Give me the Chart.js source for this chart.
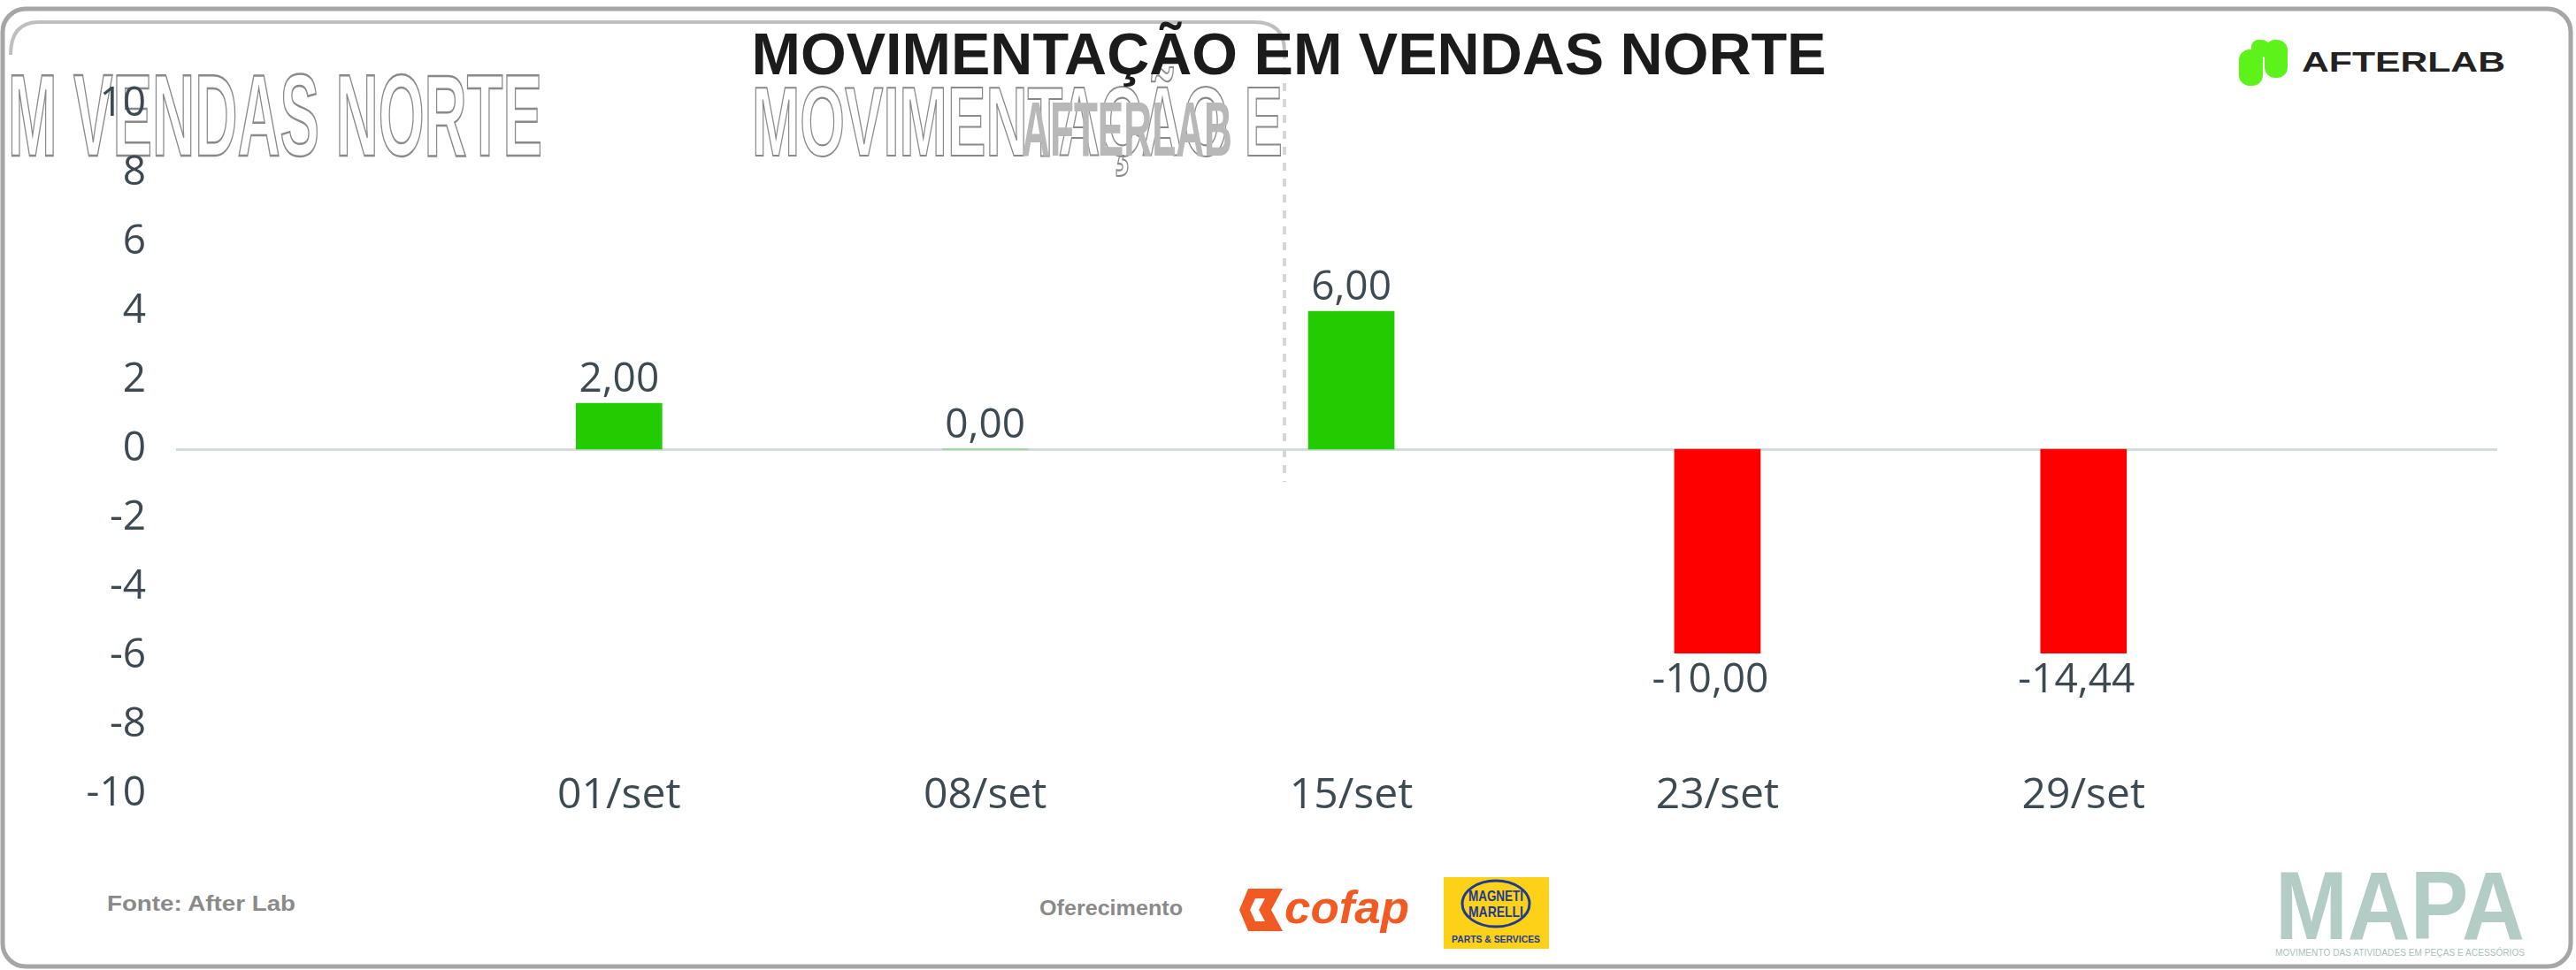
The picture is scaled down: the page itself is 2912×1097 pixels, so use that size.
<!DOCTYPE html>
<html>
<head>
<meta charset="utf-8">
<script src="https://cdn.jsdelivr.net/npm/chart.js@4/dist/chart.umd.min.js"></script>
<style>
html,body{margin:0;padding:0;background:#fff;}
#wrap{position:relative;width:2912px;height:1097px;overflow:hidden;background:#fff;}
#deco{position:absolute;left:0;top:0;}
#c{position:absolute;left:0;top:0;}
</style>
</head>
<body>
<div id="wrap">
<svg id="deco" width="2912" height="1097" xmlns="http://www.w3.org/2000/svg">
  <!-- frame -->
  <rect x="3" y="10" width="2903" height="1083" rx="26" fill="none" stroke="#a6a6a6" stroke-width="5"/>
  <path d="M 12 62 Q 12 25 44 25 L 1418 25 Q 1452 25 1452 58" fill="none" stroke="#bfbfbf" stroke-width="4"/>
  <line x1="1452" y1="58" x2="1452" y2="545" stroke="#d6d6d6" stroke-width="4" stroke-dasharray="9 9"/>

  <!-- ghost texts -->
  <text transform="translate(9,176) scale(1,2)" font-family="Liberation Sans" font-weight="bold" font-size="66" fill="#ffffff" stroke="#8a8a8a" stroke-width="1.2" textLength="604" lengthAdjust="spacingAndGlyphs">M VENDAS NORTE</text>
  <text transform="translate(850,176) scale(1,1.7)" font-family="Liberation Sans" font-weight="bold" font-size="66" fill="#ffffff" stroke="#8a8a8a" stroke-width="1.2" textLength="600" lengthAdjust="spacingAndGlyphs">MOVIMENTAÇÃO E</text>
  <text transform="translate(1155,176) scale(1,2)" font-family="Liberation Sans" font-weight="bold" font-size="44" fill="#b8b8b8" textLength="238" lengthAdjust="spacingAndGlyphs">AFTERLAB</text>

  <!-- title -->
  <text x="1457" y="84" text-anchor="middle" font-family="Liberation Sans" font-weight="bold" font-size="66" fill="#1b1b1b" textLength="1215" lengthAdjust="spacingAndGlyphs">MOVIMENTAÇÃO EM VENDAS NORTE</text>

  <!-- AfterLab logo -->
  <rect x="2531" y="56" width="27" height="41" rx="12" fill="#5cf21a"/>
  <rect x="2560" y="45" width="26" height="43" rx="12" fill="#5cf21a"/>
  <rect x="2545" y="45" width="20" height="20" rx="8" fill="#5cf21a"/>
  <text x="2602" y="81" font-family="Liberation Sans" font-weight="bold" font-size="31" fill="#222" textLength="230" lengthAdjust="spacingAndGlyphs">AFTERLAB</text>

  <!-- footer -->
  <text x="121" y="1030" font-family="Liberation Sans" font-weight="bold" font-size="24" fill="#8a8a8a" textLength="213" lengthAdjust="spacingAndGlyphs">Fonte: After Lab</text>
  <text x="1175" y="1035" font-family="Liberation Sans" font-weight="bold" font-size="24" fill="#8a8a8a" textLength="162" lengthAdjust="spacingAndGlyphs">Oferecimento</text>

  <!-- cofap -->
  <path d="M 1411 1005 L 1450 1005 L 1437 1029 L 1450 1053 L 1411 1053 L 1401 1029 Z" fill="#f15a22"/>
  <path d="M 1419 1016 L 1430 1016 L 1423 1029 L 1430 1042 L 1419 1042 L 1413 1029 Z" fill="#ffffff"/>
  <text x="1452" y="1044" font-family="Liberation Sans" font-weight="bold" font-style="italic" font-size="52" fill="#f15a22" textLength="141" lengthAdjust="spacingAndGlyphs">cofap</text>

  <!-- Magneti Marelli -->
  <rect x="1632" y="992" width="119" height="81" fill="#fdd117"/>
  <ellipse cx="1691" cy="1022" rx="38" ry="26" fill="none" stroke="#1f3a93" stroke-width="3"/>
  <text x="1691" y="1019" text-anchor="middle" font-family="Liberation Sans" font-weight="bold" font-size="17" fill="#1f3a93" textLength="62" lengthAdjust="spacingAndGlyphs">MAGNETI</text>
  <text x="1691" y="1037" text-anchor="middle" font-family="Liberation Sans" font-weight="bold" font-size="17" fill="#1f3a93" textLength="62" lengthAdjust="spacingAndGlyphs">MARELLI</text>
  <text x="1691" y="1066" text-anchor="middle" font-family="Liberation Sans" font-weight="bold" font-size="11" fill="#1f3a93" textLength="100" lengthAdjust="spacingAndGlyphs">PARTS &amp; SERVICES</text>

  <!-- MAPA -->
  <text x="2572" y="1062" font-family="Liberation Sans" font-weight="bold" font-size="109" fill="#b4ccc6" textLength="282" lengthAdjust="spacingAndGlyphs">MAPA</text>
  <text x="2572" y="1081" font-family="Liberation Sans" font-size="10" fill="#a9c0ba" textLength="282" lengthAdjust="spacing">MOVIMENTO DAS ATIVIDADES EM PEÇAS E ACESSÓRIOS</text>
</svg>
<canvas id="c" width="2912" height="1097"></canvas>
</div>
<script>
const categories = ['01/set', '08/set', '15/set', '23/set', '29/set'];
const values = [2.00, 0.00, 6.00, -10.00, -14.44];
const axisTicks = [-10, -8, -6, -4, -2, 0, 2, 4, 6, 8, 10];

const positiveColor = '#22cc00';
const negativeColor = '#ff0000';
const textColor = '#3d4a51';

function fmt(v) { return v.toFixed(2).replace('.', ','); }

const valueLabels = {
  id: 'valueLabels',
  afterDatasetsDraw(chart) {
    const ctx = chart.ctx;
    const meta = chart.getDatasetMeta(0);
    const ds = chart.data.datasets[0];
    const area = chart.chartArea;
    const clipBottom = area.bottom + ((ds.clip && ds.clip.bottom) || 0);
    ctx.save();
    ctx.font = '46px "Open Sans"';
    ctx.fillStyle = textColor;
    ctx.textAlign = 'center';
    ctx.textBaseline = 'alphabetic';
    meta.data.forEach((el, i) => {
      const v = values[i];
      if (v >= 0) ctx.fillText(fmt(v), el.x, el.y - 13);
      else ctx.fillText(fmt(v), el.x - 8, Math.min(el.y, clipBottom) + 44);
    });
    ctx.restore();
  }
};

new Chart(document.getElementById('c'), {
  type: 'bar',
  data: {
    datasets: [{
      data: values.map((v, i) => ({ x: i, y: v })),
      backgroundColor: values.map(v => v >= 0 ? positiveColor : negativeColor),
      borderWidth: 0,
      barThickness: 97,
      xAxisID: 'x',
      yAxisID: 'yBars',
      clip: { left: 0, top: 0, right: 0, bottom: -159 }
    }]
  },
  options: {
    responsive: false,
    animation: false,
    devicePixelRatio: 1,
    events: [],
    layout: { padding: { top: 118, right: 89, bottom: 0, left: 0 } },
    plugins: { legend: { display: false }, tooltip: { enabled: false }, title: { display: false } },
    scales: {
      x: {
        type: 'linear',
        offset: false,
        min: -1.21,
        max: 5.13,
        afterBuildTicks: s => { s.ticks = categories.map((c, i) => ({ value: i })); },
        afterFit: s => { s.height = 199; },
        ticks: {
          callback: v => categories[v],
          font: { family: 'Open Sans', size: 48 },
          color: textColor,
          mirror: true,
          padding: -31,
          autoSkip: false,
          maxRotation: 0
        },
        grid: { display: false, drawTicks: false },
        border: { display: false }
      },
      y: {
        position: 'left',
        min: -10,
        max: 10,
        afterBuildTicks: s => { s.ticks = axisTicks.map(v => ({ value: v })); },
        afterFit: s => { s.width = 199; },
        ticks: {
          callback: v => String(v),
          font: { family: 'Open Sans', size: 46 },
          color: textColor,
          padding: 34
        },
        grid: {
          drawTicks: false,
          color: c => (c.tick && c.tick.value === 0) ? '#d3dbdb' : 'rgba(0,0,0,0)',
          lineWidth: 3
        },
        border: { display: false }
      },
      yBars: { display: false, min: -15, max: 15 }
    }
  },
  plugins: [valueLabels]
});
</script>
</body>
</html>
